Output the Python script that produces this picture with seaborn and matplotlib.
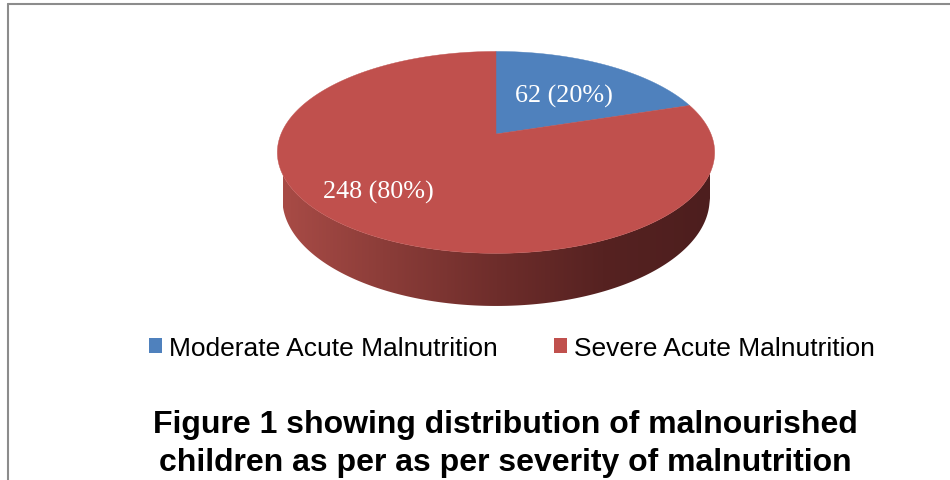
import matplotlib.pyplot as plt
import numpy as np
import seaborn as sns
from matplotlib.colors import LinearSegmentedColormap
from matplotlib.lines import Line2D
from matplotlib.patches import Patch, Polygon

categories = ['Moderate Acute Malnutrition', 'Severe Acute Malnutrition']
counts = [62, 248]
percents = [20, 80]
colors = ['#4F81BD', '#C0504D']

sns.set_theme(style='white')
plt.rcParams['font.family'] = ['Liberation Sans', 'DejaVu Sans']
plt.rcParams['text.color'] = 'black'

W, H = 950, 481
fig = plt.figure(figsize=(W / 100, H / 100), dpi=100)
fig.patch.set_facecolor('white')

# 3d view of the pie: elevation, camera distance, thickness (unit radius)
phi = np.radians(27)
L = 4.89
h = 0.245
scale = 215          # px per unit
cx, cy = 496, 135    # pixel position of the pie centre


def proj(X, Z, Y=0.0):
    w = L + Z * np.cos(phi) - Y * np.sin(phi)
    return X * L / w, (Y * np.cos(phi) + Z * np.sin(phi)) * L / w


ax = fig.add_axes([0, 0, 1, 1])
wedges, _ = ax.pie(counts, colors=colors, startangle=90, counterclock=False,
                   radius=1, center=(0, 0), frame=True,
                   wedgeprops=dict(linewidth=0))
ax.set_aspect('auto')
ax.set_xlim(-cx / scale, (W - cx) / scale)
ax.set_ylim(-(H - cy) / scale, cy / scale)
ax.axis('off')

# side of the pie: between top and bottom front arcs, horizontal shading
ts = np.arcsin(1 / (L * np.cos(phi)))
t = np.linspace(np.pi + ts, 2 * np.pi - ts, 300)
top = np.c_[proj(np.cos(t), np.sin(t))]
bot = np.c_[proj(np.cos(t), np.sin(t), -h)]
side = Polygon(np.r_[top, bot[::-1]], closed=True, facecolor='none', edgecolor='none')
ax.add_patch(side)
shade = LinearSegmentedColormap.from_list(
    'side', ['#A84B46', '#8A3C38', '#6E2D2B', '#562221', '#4D1E1E'])
x0, x1 = bot[:, 0].min(), bot[:, 0].max()
grad = ax.imshow(np.linspace(0, 1, 256)[None, :], cmap=shade, aspect='auto',
                 extent=[x0, x1, bot[:, 1].min(), 0], zorder=1)
grad.set_clip_path(side)

# top face: project every wedge of the pie
for wdg in wedges:
    wdg.set_visible(False)
    a = np.radians(np.linspace(wdg.theta1, wdg.theta2, 200))
    ox, oy = wdg.center
    px = np.r_[ox, ox + wdg.r * np.cos(a)]
    pz = np.r_[oy, oy + wdg.r * np.sin(a)]
    sx, sy = proj(px, pz)
    ax.add_patch(Polygon(np.c_[sx, sy], closed=True, facecolor=wdg.get_facecolor(),
                         edgecolor=wdg.get_facecolor(), lw=0.3, zorder=2))

# value labels
label_pos = [(564, 96), (378, 192)]
for (lx, ly), n, p in zip(label_pos, counts, percents):
    fig.text(lx / W, 1 - ly / H, f'{n} ({p}%)', color='white', fontsize=18.8,
             family='Liberation Serif', ha='center', va='center', zorder=5)

# legend
handles = [Patch(facecolor=c, edgecolor='none') for c in colors]
fig.legend(handles, categories, loc='center', bbox_to_anchor=(512 / W, 1 - 349 / H),
           ncol=2, frameon=False, fontsize=19, handlelength=0.5, handleheight=0.5,
           handletextpad=0.27, columnspacing=2.1)

# title
title_lines = ['Figure 1 showing distribution of malnourished',
               'children as per as per severity of malnutrition']
for line, by in zip(title_lines, [433, 471]):
    fig.text(505 / W, 1 - by / H, line, ha='center', va='baseline',
             fontsize=23, fontweight='bold')

# frame
fig.add_artist(Line2D([8 / W, 8 / W], [0, 1 - 5 / H], color='#8c8c8c', lw=1.5))
fig.add_artist(Line2D([8 / W, 1], [1 - 5 / H, 1 - 5 / H], color='#8c8c8c', lw=1.5))

fig.savefig('out.png', dpi=100)
